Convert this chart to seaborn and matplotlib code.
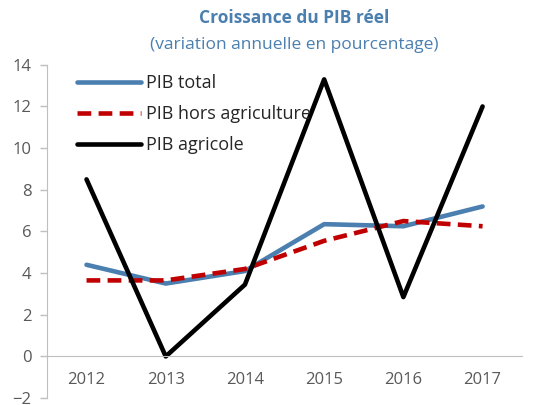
import pandas as pd
import matplotlib.pyplot as plt
import seaborn as sns

# =========================
# DATA
# =========================
years = ["2012", "2013", "2014", "2015", "2016", "2017"]
pib_total = [4.4, 3.5, 4.1, 6.35, 6.25, 7.2]
pib_hors_agri = [3.65, 3.65, 4.2, 5.55, 6.5, 6.25]
pib_agricole = [8.5, 0.0, 3.45, 13.3, 2.85, 12.0]

series_names = ["PIB total", "PIB hors agriculture", "PIB agricole"]
colors = ["#4a7fb0", "#c00000", "#000000"]

rows = []
for name, vals in zip(series_names, [pib_total, pib_hors_agri, pib_agricole]):
    for i, v in enumerate(vals):
        rows.append({"pos": i, "year": years[i], "value": v, "serie": name})
df = pd.DataFrame(rows)

# =========================
# PLOT
# =========================
sns.set_style("white")
plt.rcParams["font.family"] = ["Open Sans", "DejaVu Sans"]

fig = plt.figure(figsize=(5.52, 4.05), dpi=100)
ax = fig.add_axes([0.085, 0.017, 0.861, 0.823])

sns.lineplot(data=df, x="pos", y="value", hue="serie", style="serie",
             hue_order=series_names, style_order=series_names,
             palette=colors, dashes={"PIB total": "", "PIB hors agriculture": (3.0, 1.6),
                                     "PIB agricole": ""},
             linewidth=3.3, ax=ax, sort=False)

ax.set_ylim(-2, 14)
ax.set_xlim(-0.5, 5.5)
ax.set_yticks(range(-2, 15, 2))
ax.set_xlabel("")
ax.set_ylabel("")

# spines
for s in ["top", "right"]:
    ax.spines[s].set_visible(False)
ax.spines["left"].set_color("#bfbfbf")
ax.spines["bottom"].set_color("#bfbfbf")
ax.spines["bottom"].set_position(("data", 0))

# category labels and tick marks between categories
ax.set_xticks(range(len(years)))
ax.set_xticklabels(years)
ax.set_xticks([i + 0.5 for i in range(len(years))], minor=True)
ax.tick_params(axis="x", which="major", length=0, pad=11, labelsize=12, labelcolor="#595959")
ax.tick_params(axis="x", which="minor", length=5, width=1, color="#bfbfbf", direction="out")
ax.tick_params(axis="y", length=5, width=1, color="#bfbfbf", direction="out", pad=6,
               labelsize=12, labelcolor="#595959", left=True)

leg = ax.legend(loc="upper left", frameon=False, fontsize=13, handlelength=3.5,
                handletextpad=0.3, labelspacing=0.72, bbox_to_anchor=(0.03, 1.02))
for line in leg.get_lines():
    line.set_linewidth(3.3)

fig.text(0.533, 0.955, "Croissance du PIB réel", ha="center", va="center",
         fontsize=12.5, fontweight="bold", color="#4a7fb0")
fig.text(0.533, 0.888, "(variation annuelle en pourcentage)", ha="center", va="center",
         fontsize=12.5, color="#4a7fb0")

fig.savefig("out.png", dpi=100)
